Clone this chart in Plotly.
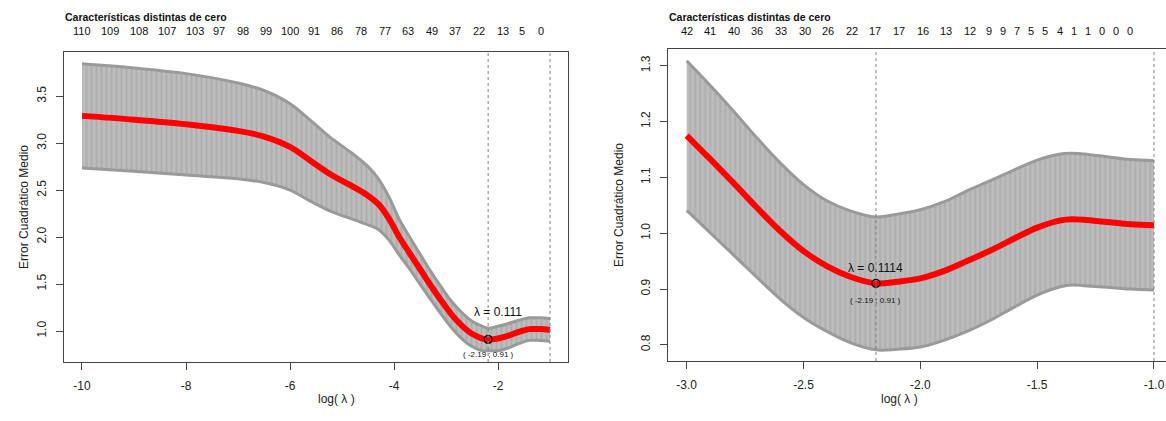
import plotly.graph_objects as go

W, H = 1166, 421

# ---- Panel 1: lasso CV curve (log lambda from -10 to -1) ----
left_loglam = [-10.0, -9.0, -8.0, -7.0, -6.5, -6.0, -5.6, -5.2, -4.8, -4.5, -4.3, -4.1,
               -3.9, -3.7, -3.5, -3.3, -3.1, -2.9, -2.7, -2.5, -2.3, -2.19, -2.0, -1.8,
               -1.6, -1.4, -1.2, -1.0]
left_cvm = [3.29, 3.25, 3.20, 3.13, 3.07, 2.96, 2.81, 2.66, 2.54, 2.44, 2.35, 2.20,
            2.00, 1.83, 1.66, 1.49, 1.33, 1.18, 1.06, 0.97, 0.92, 0.91, 0.92, 0.95,
            0.99, 1.02, 1.02, 1.01]
left_cvsd = [0.555, 0.55, 0.54, 0.51, 0.49, 0.46, 0.43, 0.39, 0.35, 0.31, 0.27, 0.23,
             0.19, 0.17, 0.16, 0.15, 0.145, 0.14, 0.14, 0.135, 0.13, 0.12, 0.13, 0.13,
             0.125, 0.12, 0.12, 0.12]
left_nz_pos = [-10.0, -9.455, -8.909, -8.364, -7.818, -7.364, -6.909, -6.455, -6.0, -5.545,
               -5.091, -4.636, -4.182, -3.727, -3.273, -2.818, -2.364, -1.909, -1.545, -1.182]
left_nz = ["110", "109", "108", "107", "103", "97", "98", "99", "100", "91",
           "86", "78", "77", "63", "49", "37", "22", "13", "5", "0"]
left_min = (-2.19, 0.91)
left_1se = -1.0
left_xticks = [-10, -8, -6, -4, -2]
left_xtext = ["-10", "-8", "-6", "-4", "-2"]
left_yticks = [1.0, 1.5, 2.0, 2.5, 3.0, 3.5]
left_lambda_txt = "λ = 0.111"

# ---- Panel 2: lasso CV curve (log lambda from -3 to -1) ----
right_loglam = [-3.0, -2.9, -2.8, -2.7, -2.6, -2.5, -2.4, -2.3, -2.19, -2.1, -2.0, -1.9,
                -1.8, -1.7, -1.6, -1.5, -1.4, -1.35, -1.3, -1.2, -1.1, -1.0]
right_cvm = [1.175, 1.133, 1.090, 1.046, 1.004, 0.968, 0.941, 0.922, 0.910, 0.913, 0.919, 0.932,
             0.950, 0.969, 0.990, 1.010, 1.023, 1.025, 1.024, 1.020, 1.016, 1.014]
right_cvsd = [0.134, 0.132, 0.129, 0.125, 0.122, 0.119, 0.117, 0.118, 0.119, 0.121, 0.123, 0.124,
              0.126, 0.125, 0.123, 0.121, 0.119, 0.118, 0.118, 0.117, 0.116, 0.116]
right_nz_pos = [-3.0, -2.899, -2.798, -2.697, -2.596, -2.495, -2.394, -2.293, -2.192, -2.091,
                -1.990, -1.889, -1.788, -1.707, -1.646, -1.586, -1.525, -1.465, -1.404, -1.343,
                -1.283, -1.222, -1.162, -1.101]
right_nz = ["42", "41", "40", "36", "33", "30", "26", "22", "17", "17", "16", "13", "12",
            "9", "9", "7", "5", "5", "4", "1", "1", "0", "0", "0"]
right_min = (-2.19, 0.91)
right_1se = -1.0
right_xticks = [-3.0, -2.5, -2.0, -1.5, -1.0]
right_xtext = ["-3.0", "-2.5", "-2.0", "-1.5", "-1.0"]
right_yticks = [0.8, 0.9, 1.0, 1.1, 1.2, 1.3]
right_lambda_txt = "λ = 0.1114"

FONT = "Liberation Sans, Arial, sans-serif"
BAR_GREY = "#9e9e9e"
EDGE_GREY = "#9a9a9a"

fig = go.Figure()


def add_panel(xa, ya, loglam, cvm, cvsd, vmin, v1se):
    up = [m + s for m, s in zip(cvm, cvsd)]
    lo = [m - s for m, s in zip(cvm, cvsd)]
    fig.add_trace(go.Scatter(x=loglam, y=lo, mode="lines", xaxis=xa, yaxis=ya,
                             line=dict(color=EDGE_GREY, width=3, shape="spline", smoothing=1.0),
                             hoverinfo="skip", showlegend=False))
    fig.add_trace(go.Scatter(x=loglam, y=up, mode="lines", xaxis=xa, yaxis=ya,
                             line=dict(color=EDGE_GREY, width=3, shape="spline", smoothing=1.0),
                             fill="tonexty", fillcolor="#bcbcbc",
                             fillpattern=dict(shape="|", fgcolor=BAR_GREY, bgcolor="#bdbdbd",
                                              size=5, solidity=0.4),
                             hoverinfo="skip", showlegend=False))
    fig.add_trace(go.Scatter(x=loglam, y=cvm, mode="lines", xaxis=xa, yaxis=ya,
                             line=dict(color="#ff0000", width=6, shape="spline", smoothing=1.0),
                             showlegend=False))
    fig.add_trace(go.Scatter(x=[vmin[0]], y=[vmin[1]], mode="markers", xaxis=xa, yaxis=ya,
                             marker=dict(symbol="circle-open", size=8, color="#000000",
                                         line=dict(color="#000000", width=1.2)),
                             showlegend=False))
    for xv in (vmin[0], v1se):
        fig.add_shape(type="line", xref=xa, yref=ya + " domain", x0=xv, x1=xv, y0=0, y1=1,
                      line=dict(color="#808080", width=1, dash="dot"))


add_panel("x", "y", left_loglam, left_cvm, left_cvsd, left_min, left_1se)
add_panel("x2", "y2", right_loglam, right_cvm, right_cvsd, right_min, right_1se)

L_dom = [64 / W, 568 / W]
L_ydom = [1 - 362 / H, 1 - 52 / H]
R_dom = [667.7 / W, 1.0]
R_ydom = [1 - 361 / H, 1 - 49 / H]

axis_common = dict(showgrid=False, zeroline=False, showline=True, linecolor="#444444",
                   linewidth=1, ticks="outside", ticklen=7, tickcolor="#444444",
                   tickfont=dict(family=FONT, size=12, color="#222222"))

fig.update_layout(
    width=W, height=H, margin=dict(l=0, r=0, t=0, b=0),
    paper_bgcolor="white", plot_bgcolor="white",
    xaxis=dict(domain=L_dom, range=[-10.346, -0.654], anchor="y", mirror=True,
               tickvals=left_xticks, ticktext=left_xtext, ticklabelstandoff=6, **axis_common),
    yaxis=dict(domain=L_ydom, range=[0.67, 3.97], anchor="x", mirror=True,
               tickvals=left_yticks, tickformat=".1f", tickangle=-90, ticklabelstandoff=5,
               **axis_common),
    xaxis2=dict(domain=R_dom, range=[-3.0813, -0.9486], anchor="y2", mirror=True,
                tickvals=right_xticks, ticktext=right_xtext, ticklabelstandoff=6, **axis_common),
    yaxis2=dict(domain=R_ydom, range=[0.771, 1.330], anchor="x2", mirror=False,
                tickvals=right_yticks, tickformat=".1f", tickangle=-90, ticklabelstandoff=5,
                **axis_common),
)

ann = []
# count of non-zero coefficients along the top
for xref, positions, labels in (("x", left_nz_pos, left_nz), ("x2", right_nz_pos, right_nz)):
    for pos, lab in zip(positions, labels):
        ann.append(dict(x=pos, y=1 - 31 / H, xref=xref, yref="paper", text=lab,
                        showarrow=False, font=dict(family=FONT, size=11, color="#111111"),
                        xanchor="center", yanchor="middle"))
for x0 in (L_dom[0], R_dom[0]):
    ann.append(dict(x=x0, y=1 - 17 / H, xref="paper", yref="paper",
                    text="<b>Características distintas de cero</b>", showarrow=False,
                    font=dict(family=FONT, size=10.5, color="#111111"), xanchor="left",
                    yanchor="middle", xshift=-1))

# axis titles
for xc in (316, 920):
    ann.append(dict(x=xc / W, y=1 - 408 / H, xref="paper", yref="paper", text="log( λ )",
                    showarrow=False, font=dict(family=FONT, size=12, color="#222222")))
for xc, yc in ((15, 207), (619, 205)):
    ann.append(dict(x=xc / W, y=1 - yc / H, xref="paper", yref="paper",
                    text="Error Cuadrático Medio", textangle=-90, showarrow=False,
                    font=dict(family=FONT, size=12, color="#222222")))

# lambda.min labels
ann.append(dict(x=-2.0, y=1.20, xref="x", yref="y", text=left_lambda_txt, showarrow=False,
                font=dict(family=FONT, size=12, color="#111111")))
ann.append(dict(x=left_min[0], y=0.745, xref="x", yref="y",
                text=f"( {left_min[0]:.2f} ; {left_min[1]:.2f} )", showarrow=False,
                font=dict(family=FONT, size=8, color="#111111")))
ann.append(dict(x=right_min[0], y=0.938, xref="x2", yref="y2", text=right_lambda_txt,
                showarrow=False, font=dict(family=FONT, size=12, color="#111111")))
ann.append(dict(x=right_min[0], y=0.879, xref="x2", yref="y2",
                text=f"( {right_min[0]:.2f} ; {right_min[1]:.2f} )", showarrow=False,
                font=dict(family=FONT, size=8, color="#111111")))

fig.update_layout(annotations=ann)
fig.write_html("out.html")
